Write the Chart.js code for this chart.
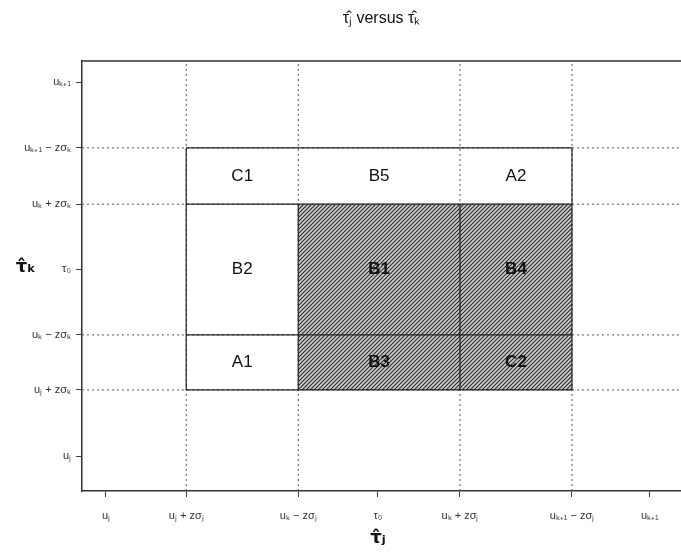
<!DOCTYPE html>
<html>
<head>
<meta charset="utf-8">
<script src="https://cdn.jsdelivr.net/npm/chart.js@4.4.1/dist/chart.umd.min.js"></script>
<style>
html,body{margin:0;padding:0;background:#fff;}
#wrap{width:681px;height:559px;}
</style>
</head>
<body>
<div id="wrap"><canvas id="c" width="681" height="559"></canvas></div>
<script>
// ---- data (axis positions in arbitrary plot units) ----
const xTickValues = [4.0, 17.4, 36.1, 49.4, 63.1, 81.8, 94.8];
const xTickLabels = ['uⱼ', 'uⱼ + zσⱼ', 'uₖ − zσⱼ', 'τ₀', 'uₖ + zσⱼ', 'uₖ₊₁ − zσⱼ', 'uₖ₊₁'];
const yTickValues = [8.1, 23.5, 36.3, 51.6, 66.7, 79.8, 95.1];
const yTickLabels = ['uⱼ', 'uⱼ + zσₖ', 'uₖ − zσₖ', 'τ₀', 'uₖ + zσₖ', 'uₖ₊₁ − zσₖ', 'uₖ₊₁'];
// grid/box boundaries
const xBounds = [17.4, 36.1, 63.1, 81.8];
const yBounds = [23.5, 36.3, 66.7, 79.8];
// region names, rows from top, cols left->right
const regionNames = [
  ['C1', 'B5', 'A2'],
  ['B2', 'B1', 'B4'],
  ['A1', 'B3', 'C2']
];
const hatched = [
  [false, false, false],
  [false, true, true],
  [false, true, true]
];
const chartTitle = 'τ̂ⱼ versus τ̂ₖ';
const xTitle = 'τ̂ⱼ';
const yTitle = 'τ̂ₖ';

// ---- hatch pattern ----
function makeHatch(){
  const c = document.createElement('canvas');
  c.width = 4; c.height = 4;
  const g = c.getContext('2d');
  g.fillStyle = '#d0d0d0';
  g.fillRect(0,0,4,4);
  g.strokeStyle = '#2e2e2e';
  g.lineWidth = 1.2;
  g.beginPath();
  g.moveTo(-1,5); g.lineTo(5,-1);
  g.moveTo(-1,1); g.lineTo(1,-1);
  g.moveTo(3,5); g.lineTo(5,3);
  g.stroke();
  return g.createPattern(c,'repeat');
}

const XMIN = 0, XMAX = 100, YMIN = 0, YMAX = 100;

// dotted grid lines
const dotted = [];
yBounds.forEach(v => { dotted.push({x:XMIN,y:v},{x:XMAX,y:v},{x:XMAX,y:null}); });
xBounds.forEach(v => { dotted.push({x:v,y:YMIN},{x:v,y:YMAX},{x:v,y:null}); });

// solid box lines
const solid = [];
const [x1,x2,x3,x4] = xBounds;
const [y1,y2,y3,y4] = yBounds;
function seg(ax,ay,bx,by){ solid.push({x:ax,y:ay},{x:bx,y:by},{x:bx,y:null}); }
seg(x1,y4,x4,y4);
seg(x1,y3,x4,y3);
seg(x1,y2,x4,y2);
seg(x1,y1,x4,y1);
seg(x1,y1,x1,y4);
seg(x4,y1,x4,y4);
seg(x2,y1,x2,y3);
seg(x3,y1,x3,y3);

// top frame line
const frameTop = [{x:XMIN,y:YMAX},{x:XMAX,y:YMAX}];

// hatched block: top edge, filled down to lower bound
const hatchTop = [{x:x2,y:y3},{x:x4,y:y3}];

const textPlugin = {
  id:'texts',
  afterDatasetsDraw(chart){
    const {ctx, scales:{x,y}, chartArea} = chart;
    ctx.save();
    ctx.textAlign = 'center';
    ctx.textBaseline = 'middle';
    ctx.fillStyle = '#111';
    const yEdges = [y4,y3,y2,y1];
    const xEdges = [x1,x2,x3,x4];
    for(let r=0;r<3;r++){
      for(let c=0;c<3;c++){
        const cx = x.getPixelForValue((xEdges[c]+xEdges[c+1])/2);
        const cy = y.getPixelForValue((yEdges[r]+yEdges[r+1])/2);
        ctx.font = (hatched[r][c] ? 'bold ' : '') + '17px "Liberation Sans", Arial, sans-serif';
        ctx.fillText(regionNames[r][c], cx, cy);
      }
    }
    // title
    ctx.font = '16px "Liberation Sans", Arial, sans-serif';
    ctx.fillText(chartTitle, (chartArea.left+chartArea.right)/2, 19);
    // axis titles
    ctx.font = 'bold 18px "DejaVu Sans", sans-serif';
    ctx.fillText(yTitle, 26, 267);
    ctx.fillText(xTitle, x.getPixelForValue(xTickValues[3]), 538);
    ctx.restore();
  }
};

function setTicks(values){
  return function(scale){ scale.ticks = values.map(v => ({value:v})); };
}

new Chart(document.getElementById('c'), {
  type:'scatter',
  data:{
    datasets:[
      {type:'line', data:frameTop, borderColor:'#333', borderWidth:1.5, pointRadius:0, fill:false, order:1, clip:false},
      {type:'line', data:solid, borderColor:'#222', borderWidth:1.2, pointRadius:0, fill:false, spanGaps:false, order:2, clip:false},
      {type:'line', data:dotted, borderColor:'#555', borderWidth:1, borderDash:[2,3], pointRadius:0, fill:false, spanGaps:false, order:3},
      {type:'line', data:hatchTop, borderWidth:0, borderColor:'rgba(0,0,0,0)', pointRadius:0, fill:{value:y1}, backgroundColor:makeHatch(), order:4}
    ]
  },
  options:{
    responsive:false,
    animation:false,
    events:[],
    layout:{padding:{top:61, right:0, left:0, bottom:0}},
    plugins:{legend:{display:false}, tooltip:{enabled:false}, title:{display:false}},
    scales:{
      x:{
        type:'linear', min:XMIN, max:XMAX,
        afterBuildTicks:setTicks(xTickValues),
        afterFit(scale){ scale.height = 68; },
        ticks:{
          autoSkip:false, maxRotation:0, padding:12, color:'#333',
          font:{family:'"Liberation Sans", Arial, sans-serif', size:11},
          callback:(v)=>{ const i = xTickValues.indexOf(v); return i>=0 ? xTickLabels[i] : ''; }
        },
        grid:{drawOnChartArea:false, drawTicks:true, tickLength:6, tickColor:'#444', tickWidth:1},
        border:{display:true, color:'#333', width:1.5}
      },
      y:{
        type:'linear', min:YMIN, max:YMAX,
        afterBuildTicks:setTicks(yTickValues),
        afterFit(scale){ scale.width = 82; },
        ticks:{
          autoSkip:false, padding:5, color:'#333',
          font:{family:'"Liberation Sans", Arial, sans-serif', size:11},
          callback:(v)=>{ const i = yTickValues.indexOf(v); return i>=0 ? yTickLabels[i] : ''; }
        },
        grid:{drawOnChartArea:false, drawTicks:true, tickLength:6, tickColor:'#444', tickWidth:1},
        border:{display:true, color:'#333', width:1.5}
      }
    }
  },
  plugins:[textPlugin]
});
</script>
</body>
</html>
